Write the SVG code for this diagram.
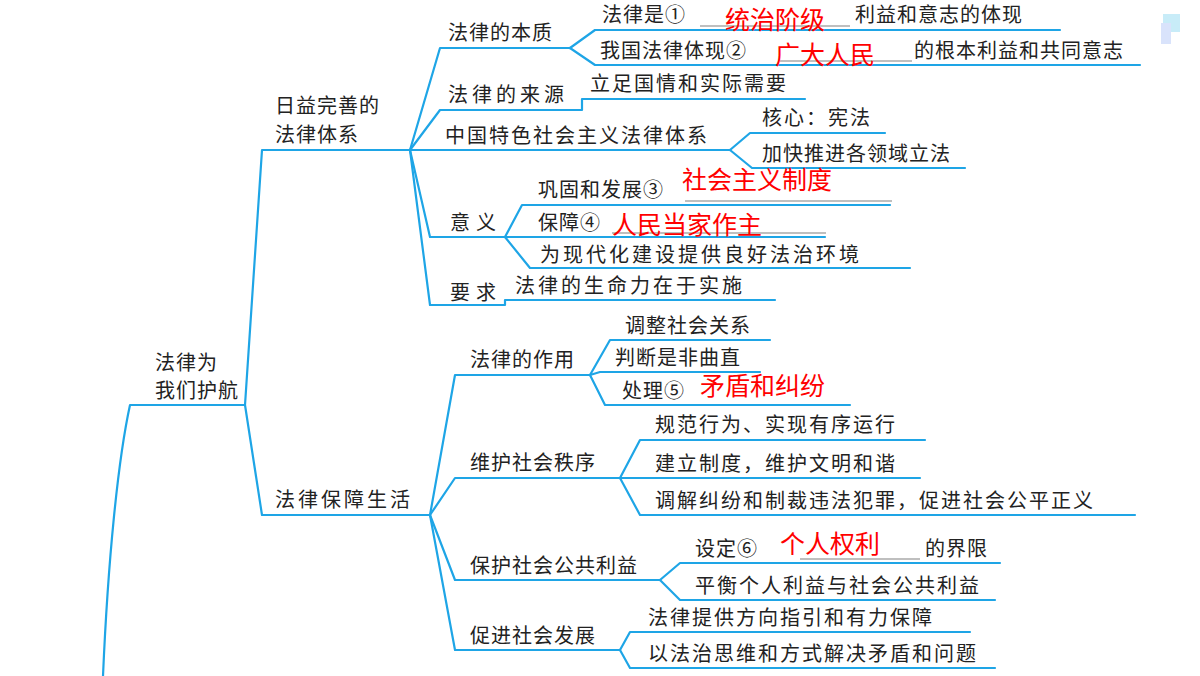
<svg xmlns="http://www.w3.org/2000/svg" width="1200" height="676" viewBox="0 0 1200 676">
<style>
.l{fill:none;stroke:#1ea5e6;stroke-width:2.2;stroke-linejoin:round;stroke-linecap:round}
.b{fill:none;stroke:#aaa;stroke-width:1.5}
text{font-family:"Noto Sans CJK SC","Noto Sans",sans-serif;font-size:20px;fill:#222;letter-spacing:1px}
.r{fill:#f00;font-size:25px;letter-spacing:0}
</style>
<rect width="1200" height="676" fill="#fff"/>
<rect x="1163" y="14" width="17" height="18" fill="#c8ecf8"/>
<rect x="1161" y="23" width="10" height="21" fill="#d9e3fb"/>
<g id="connectors" class="l">
<path d="M103 676 C108 560 118 460 130 405 H245"/>
<path d="M245 405 L262 150 H410"/>
<path d="M245 405 L262 515 H430"/>
<path d="M410 150 L440 48 H570"/>
<path d="M570 48 L595 30 H1060"/>
<path d="M570 48 L595 65 H1140"/>
<path d="M410 150 L440 110 H582 V99 H805"/>
<path d="M410 150 H730"/>
<path d="M730 150 L750 133 H885"/>
<path d="M730 150 L752 168 H965"/>
<path d="M410 150 L430 237 H505"/>
<path d="M505 237 L522 205 H890"/>
<path d="M505 237 H825"/>
<path d="M505 237 L530 268 H910"/>
<path d="M410 150 L430 305 H505 V300 H775"/>
<path d="M430 515 L455 375 H590"/>
<path d="M590 375 L610 340 H770"/>
<path d="M590 375 L600 372 H760"/>
<path d="M590 375 L605 405 H850"/>
<path d="M430 515 L455 478 H620"/>
<path d="M620 478 L640 440 H925"/>
<path d="M620 478 H920"/>
<path d="M620 478 L640 515 H1135"/>
<path d="M430 515 L455 580 H660"/>
<path d="M660 580 L680 563 H1000"/>
<path d="M660 580 L680 600 H995"/>
<path d="M430 515 L455 650 H620"/>
<path d="M620 650 L630 632 H970"/>
<path d="M620 650 L630 668 H995"/>
</g>
<g id="blanks" class="b">
<path d="M700 26 H850 M780 61 H912 M685 201 H892 M612 233 H826 M800 559 H920"/>
</g>
<g id="root"><text x="155" y="370">法律为</text><text x="155" y="398">我们护航</text></g>
<g id="n1"><text x="275" y="113">日益完善的</text><text x="275" y="142">法律体系</text></g>
<g id="n2"><text x="275" y="507" style="letter-spacing:3px">法律保障生活</text></g>
<g id="n11"><text x="448" y="40">法律的本质</text></g>
<g id="n111"><text x="602" y="22">法律是①</text><text class="r" x="725" y="29">统治阶级</text><text x="855" y="22">利益和意志的体现</text></g>
<g id="n112"><text x="600" y="58">我国法律体现②</text><text class="r" x="775" y="64">广大人民</text><text x="914" y="58">的根本利益和共同意志</text></g>
<g id="n12"><text x="448" y="102" style="letter-spacing:4px">法律的来源</text></g>
<g id="n121"><text x="590" y="91" style="letter-spacing:2px">立足国情和实际需要</text></g>
<g id="n13"><text x="445" y="143" style="letter-spacing:2px">中国特色社会主义法律体系</text></g>
<g id="n131"><text x="762" y="125" style="letter-spacing:2px">核心：宪法</text></g>
<g id="n132"><text x="762" y="161">加快推进各领域立法</text></g>
<g id="n14"><text x="450" y="230" style="letter-spacing:6px">意义</text></g>
<g id="n141"><text x="538" y="197">巩固和发展③</text><text class="r" x="682" y="189">社会主义制度</text></g>
<g id="n142"><text x="538" y="230">保障④</text><text class="r" x="612" y="234">人民当家作主</text></g>
<g id="n143"><text x="540" y="262" style="letter-spacing:3px">为现代化建设提供良好法治环境</text></g>
<g id="n15"><text x="450" y="300" style="letter-spacing:6px">要求</text></g>
<g id="n151"><text x="515" y="293" style="letter-spacing:3px">法律的生命力在于实施</text></g>
<g id="n21"><text x="470" y="367">法律的作用</text></g>
<g id="n211"><text x="625" y="333">调整社会关系</text></g>
<g id="n212"><text x="615" y="365">判断是非曲直</text></g>
<g id="n213"><text x="622" y="398">处理⑤</text><text class="r" x="700" y="395">矛盾和纠纷</text></g>
<g id="n22"><text x="470" y="470">维护社会秩序</text></g>
<g id="n221"><text x="655" y="432" style="letter-spacing:2px">规范行为、实现有序运行</text></g>
<g id="n222"><text x="655" y="471" style="letter-spacing:2px">建立制度，维护文明和谐</text></g>
<g id="n223"><text x="655" y="508" style="letter-spacing:2px">调解纠纷和制裁违法犯罪，促进社会公平正义</text></g>
<g id="n23"><text x="470" y="573">保护社会公共利益</text></g>
<g id="n231"><text x="695" y="556">设定⑥</text><text class="r" x="780" y="553">个人权利</text><text x="925" y="556">的界限</text></g>
<g id="n232"><text x="695" y="593" style="letter-spacing:2px">平衡个人利益与社会公共利益</text></g>
<g id="n24"><text x="470" y="643">促进社会发展</text></g>
<g id="n241"><text x="648" y="625" style="letter-spacing:2px">法律提供方向指引和有力保障</text></g>
<g id="n242"><text x="648" y="661" style="letter-spacing:2px">以法治思维和方式解决矛盾和问题</text></g>
</svg>
